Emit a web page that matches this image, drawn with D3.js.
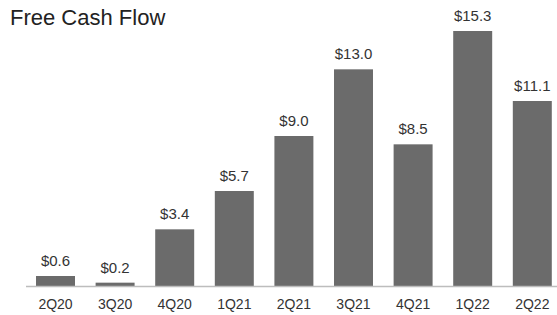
<!DOCTYPE html>
<html>
<head>
<meta charset="utf-8">
<script src="https://cdn.jsdelivr.net/npm/d3@7"></script>
<style>
  html, body { margin: 0; padding: 0; background: #fff; }
  svg { display: block; font-family: 'Liberation Sans', Arial, sans-serif; }
</style>
</head>
<body>
<div id="chart"></div>
<script>
const quarters = ['2Q20', '3Q20', '4Q20', '1Q21', '2Q21', '3Q21', '4Q21', '1Q22', '2Q22']
const fcf = [0.6, 0.2, 3.4, 5.7, 9.0, 13.0, 8.5, 15.3, 11.1]

const W = 557, H = 315
const baseY = 286

const svg = d3.select('#chart').append('svg')
  .attr('width', W).attr('height', H)

svg.append('text')
  .attr('x', 10).attr('y', 25)
  .attr('font-size', 22).attr('fill', '#222')
  .text('Free Cash Flow')

const x = d3.scaleBand()
  .domain(quarters)
  .range([26, 561.8])
  .paddingInner(0.346)
  .paddingOuter(0.168)

const y = d3.scaleLinear().domain([0, 15.3]).range([baseY, 31])

svg.append('g').selectAll('rect')
  .data(fcf)
  .join('rect')
  .attr('x', (_, i) => x(quarters[i]))
  .attr('width', x.bandwidth())
  .attr('y', d => y(d))
  .attr('height', d => baseY - y(d))
  .attr('fill', '#6b6b6b')

svg.append('g').selectAll('text')
  .data(fcf)
  .join('text')
  .attr('x', (_, i) => x(quarters[i]) + x.bandwidth() / 2)
  .attr('y', d => y(d) - 10)
  .attr('text-anchor', 'middle')
  .attr('font-size', 15).attr('fill', '#333')
  .text(d => `$${d.toFixed(1)}`)

// baseline
svg.append('line')
  .attr('x1', 26).attr('x2', W).attr('y1', baseY + 0.5).attr('y2', baseY + 0.5)
  .attr('stroke', '#bdbdbd').attr('stroke-width', 1.5)

const xAxis = svg.append('g')
  .attr('transform', `translate(0,${baseY})`)
  .call(d3.axisBottom(x).tickSize(0).tickPadding(13))
xAxis.select('.domain').remove()
xAxis.selectAll('text')
  .attr('font-size', 14).attr('fill', '#333')
  .attr('font-family', "'Liberation Sans', Arial, sans-serif")
</script>
</body>
</html>
